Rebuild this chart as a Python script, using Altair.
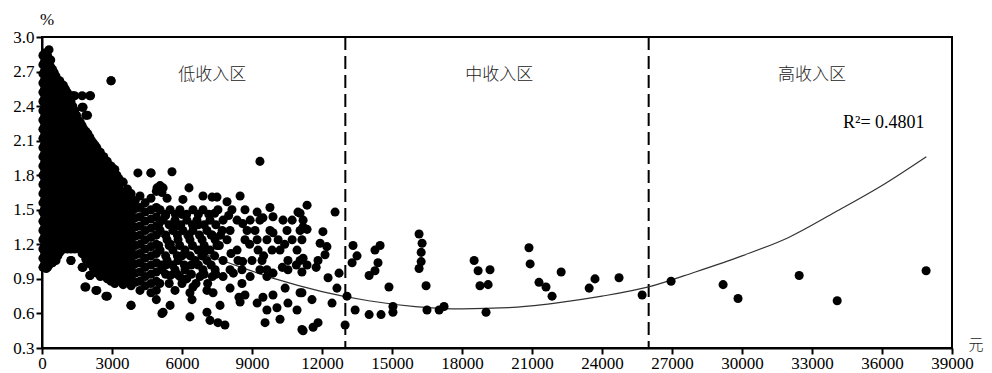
import altair as alt
import pandas as pd

# ---------------- data ----------------
x_ticks = [0, 3000, 6000, 9000, 12000, 15000, 18000, 21000, 24000, 27000, 30000, 33000, 36000, 39000]
y_ticks = [0.3, 0.6, 0.9, 1.2, 1.5, 1.8, 2.1, 2.4, 2.7, 3.0]

# dense low-income cloud, read column by column (income, list of rates)
dense_x = [40, 180, 300, 450, 600, 760, 920, 1080, 1240, 1400, 1560, 1720, 1880, 2050,
           2200, 2350, 2500, 2650, 2800, 2960, 3120, 3300, 3480, 3660, 3820, 4000, 4200,
           4420, 4670, 4900]
dense_y = [
    [1.00, 1.08, 1.16, 1.24, 1.32, 1.40, 1.48, 1.56, 1.64, 1.72, 1.80, 1.88, 1.96, 2.04, 2.12, 2.20, 2.28, 2.36, 2.44, 2.52, 2.60, 2.68, 2.76, 2.84],
    [0.99, 1.04, 1.12, 1.20, 1.28, 1.36, 1.44, 1.52, 1.60, 1.68, 1.76, 1.84, 1.92, 2.00, 2.08, 2.16, 2.24, 2.32, 2.40, 2.48, 2.56, 2.64, 2.72, 2.80, 2.86],
    [1.02, 1.10, 1.18, 1.26, 1.34, 1.42, 1.50, 1.58, 1.66, 1.74, 1.82, 1.90, 1.98, 2.06, 2.14, 2.22, 2.30, 2.38, 2.46, 2.54, 2.62, 2.70, 2.78, 2.89],
    [1.04, 1.12, 1.20, 1.28, 1.36, 1.44, 1.52, 1.60, 1.68, 1.76, 1.84, 1.92, 2.00, 2.08, 2.16, 2.24, 2.32, 2.40, 2.48, 2.56, 2.64, 2.72],
    [1.06, 1.14, 1.22, 1.30, 1.38, 1.46, 1.54, 1.62, 1.70, 1.78, 1.86, 1.94, 2.02, 2.10, 2.18, 2.26, 2.34, 2.42, 2.50, 2.58, 2.66],
    [1.13, 1.21, 1.29, 1.37, 1.45, 1.53, 1.61, 1.69, 1.77, 1.85, 1.93, 2.01, 2.09, 2.17, 2.25, 2.33, 2.41, 2.49, 2.57, 2.62],
    [1.17, 1.25, 1.33, 1.41, 1.49, 1.57, 1.65, 1.73, 1.81, 1.89, 1.97, 2.05, 2.13, 2.21, 2.29, 2.37, 2.45, 2.53, 2.58],
    [1.16, 1.24, 1.32, 1.40, 1.48, 1.56, 1.64, 1.72, 1.80, 1.88, 1.96, 2.04, 2.12, 2.20, 2.28, 2.36, 2.44, 2.52],
    [1.06, 1.16, 1.24, 1.32, 1.40, 1.48, 1.56, 1.64, 1.72, 1.80, 1.88, 1.96, 2.04, 2.12, 2.20, 2.28, 2.36, 2.44, 2.49],
    [1.16, 1.24, 1.32, 1.40, 1.48, 1.56, 1.64, 1.72, 1.80, 1.88, 1.96, 2.04, 2.12, 2.20, 2.28, 2.36, 2.49],
    [1.17, 1.25, 1.33, 1.41, 1.49, 1.57, 1.65, 1.73, 1.81, 1.89, 1.97, 2.05, 2.13, 2.21, 2.28],
    [1.00, 1.12, 1.20, 1.28, 1.36, 1.44, 1.52, 1.60, 1.68, 1.76, 1.84, 1.92, 2.00, 2.08, 2.16, 2.23, 2.39, 2.49],
    [0.83, 1.07, 1.15, 1.23, 1.31, 1.39, 1.47, 1.55, 1.63, 1.71, 1.79, 1.87, 1.95, 2.03, 2.11, 2.18, 2.32],
    [0.93, 1.03, 1.11, 1.19, 1.27, 1.35, 1.43, 1.51, 1.59, 1.67, 1.75, 1.83, 1.91, 1.99, 2.07, 2.13, 2.49],
    [0.99, 1.07, 1.15, 1.23, 1.31, 1.39, 1.47, 1.55, 1.63, 1.71, 1.79, 1.87, 1.95, 2.03, 2.08],
    [0.80, 0.95, 1.03, 1.11, 1.19, 1.27, 1.35, 1.43, 1.51, 1.59, 1.67, 1.75, 1.83, 1.91, 1.99, 2.04],
    [0.92, 1.00, 1.08, 1.16, 1.24, 1.32, 1.40, 1.48, 1.56, 1.64, 1.72, 1.80, 1.88, 1.96, 2.00],
    [0.96, 1.04, 1.12, 1.20, 1.28, 1.36, 1.44, 1.52, 1.60, 1.68, 1.76, 1.84, 1.92, 1.96],
    [0.75, 0.90, 0.98, 1.06, 1.14, 1.22, 1.30, 1.38, 1.46, 1.54, 1.62, 1.70, 1.78, 1.86, 1.92],
    [0.88, 0.96, 1.04, 1.12, 1.20, 1.28, 1.36, 1.44, 1.52, 1.60, 1.68, 1.76, 1.84, 1.88, 2.62],
    [0.86, 0.94, 1.02, 1.10, 1.18, 1.26, 1.34, 1.42, 1.50, 1.58, 1.66, 1.74, 1.82, 1.85],
    [0.89, 0.97, 1.05, 1.13, 1.21, 1.29, 1.37, 1.45, 1.53, 1.61, 1.69, 1.77],
    [0.85, 0.93, 1.01, 1.09, 1.17, 1.25, 1.33, 1.41, 1.49, 1.57, 1.65, 1.74],
    [0.88, 0.96, 1.04, 1.12, 1.20, 1.28, 1.36, 1.44, 1.52, 1.60, 1.68],
    [0.67, 0.84, 0.92, 1.00, 1.08, 1.16, 1.24, 1.32, 1.40, 1.48, 1.56, 1.64],
    [0.87, 0.95, 1.03, 1.11, 1.19, 1.27, 1.35, 1.43, 1.51, 1.58],
    [0.80, 0.88, 0.96, 1.04, 1.12, 1.20, 1.28, 1.36, 1.44, 1.52, 1.62],
    [0.84, 0.92, 1.00, 1.08, 1.16, 1.24, 1.32, 1.40, 1.48, 1.56],
    [0.78, 0.86, 0.94, 1.02, 1.10, 1.18, 1.26, 1.34, 1.42, 1.50, 1.60, 1.82],
    [0.72, 0.80, 0.88, 0.96, 1.04, 1.12, 1.20, 1.28, 1.36, 1.44, 1.52, 1.66],
]

# more columns of the same dense cloud, lying between the ones above
fill_x = [110, 240, 375, 525, 680, 840, 1000, 1160, 1320, 1480, 1640, 1800, 1965, 2125,
          2275, 2425, 2575, 2725, 2880, 3040, 3210]
fill_y = [
    [1.03, 1.11, 1.19, 1.27, 1.35, 1.43, 1.51, 1.59, 1.67, 1.75, 1.83, 1.91, 1.99, 2.07, 2.15, 2.23, 2.31, 2.39, 2.47, 2.55, 2.63, 2.71, 2.79, 2.86],
    [1.00, 1.08, 1.16, 1.24, 1.32, 1.40, 1.48, 1.56, 1.64, 1.72, 1.80, 1.88, 1.96, 2.04, 2.12, 2.20, 2.28, 2.36, 2.44, 2.52, 2.60, 2.68, 2.76, 2.84],
    [1.06, 1.14, 1.22, 1.30, 1.38, 1.46, 1.54, 1.62, 1.70, 1.78, 1.86, 1.94, 2.02, 2.10, 2.18, 2.26, 2.34, 2.42, 2.50, 2.58, 2.66, 2.74, 2.80],
    [1.09, 1.17, 1.25, 1.33, 1.41, 1.49, 1.57, 1.65, 1.73, 1.81, 1.89, 1.97, 2.05, 2.13, 2.21, 2.29, 2.37, 2.45, 2.53, 2.61, 2.69],
    [1.10, 1.18, 1.26, 1.34, 1.42, 1.50, 1.58, 1.66, 1.74, 1.82, 1.90, 1.98, 2.06, 2.14, 2.22, 2.30, 2.38, 2.46, 2.54, 2.62],
    [1.15, 1.23, 1.31, 1.39, 1.47, 1.55, 1.63, 1.71, 1.79, 1.87, 1.95, 2.03, 2.11, 2.19, 2.27, 2.35, 2.43, 2.51, 2.59],
    [1.21, 1.29, 1.37, 1.45, 1.53, 1.61, 1.69, 1.77, 1.85, 1.93, 2.01, 2.09, 2.17, 2.25, 2.33, 2.41, 2.49, 2.55],
    [1.20, 1.28, 1.36, 1.44, 1.52, 1.60, 1.68, 1.76, 1.84, 1.92, 2.00, 2.08, 2.16, 2.24, 2.32, 2.40, 2.48],
    [1.20, 1.28, 1.36, 1.44, 1.52, 1.60, 1.68, 1.76, 1.84, 1.92, 2.00, 2.08, 2.16, 2.24, 2.32, 2.40],
    [1.20, 1.28, 1.36, 1.44, 1.52, 1.60, 1.68, 1.76, 1.84, 1.92, 2.00, 2.08, 2.16, 2.24, 2.32],
    [1.16, 1.24, 1.32, 1.40, 1.48, 1.56, 1.64, 1.72, 1.80, 1.88, 1.96, 2.04, 2.12, 2.20, 2.26],
    [1.11, 1.19, 1.27, 1.35, 1.43, 1.51, 1.59, 1.67, 1.75, 1.83, 1.91, 1.99, 2.07, 2.15, 2.20],
    [1.07, 1.15, 1.23, 1.31, 1.39, 1.47, 1.55, 1.63, 1.71, 1.79, 1.87, 1.95, 2.03, 2.11, 2.16],
    [1.03, 1.11, 1.19, 1.27, 1.35, 1.43, 1.51, 1.59, 1.67, 1.75, 1.83, 1.91, 1.99, 2.07, 2.10],
    [0.99, 1.07, 1.15, 1.23, 1.31, 1.39, 1.47, 1.55, 1.63, 1.71, 1.79, 1.87, 1.95, 2.03, 2.06],
    [0.96, 1.04, 1.12, 1.20, 1.28, 1.36, 1.44, 1.52, 1.60, 1.68, 1.76, 1.84, 1.92, 2.00],
    [1.00, 1.08, 1.16, 1.24, 1.32, 1.40, 1.48, 1.56, 1.64, 1.72, 1.80, 1.88, 1.96],
    [0.94, 1.02, 1.10, 1.18, 1.26, 1.34, 1.42, 1.50, 1.58, 1.66, 1.74, 1.82, 1.90],
    [0.92, 1.00, 1.08, 1.16, 1.24, 1.32, 1.40, 1.48, 1.56, 1.64, 1.72, 1.80, 1.88],
    [0.90, 0.98, 1.06, 1.14, 1.22, 1.30, 1.38, 1.46, 1.54, 1.62, 1.70, 1.78, 1.86],
    [0.93, 1.01, 1.09, 1.17, 1.25, 1.33, 1.41, 1.49, 1.57, 1.65, 1.73, 1.80],
]

# moderately dense part of the low-income cloud, read row by row (rate, list of incomes)
band_y = [1.50, 1.41, 1.32, 1.24, 1.15, 1.06, 0.98, 0.92]
band_x = [
    [5060, 5490, 5910, 6470, 6900, 7540, 8140, 8700],
    [5190, 5700, 6210, 6640, 7200, 7760, 8360, 8920, 9340, 10330, 10720, 11190],
    [5060, 5610, 6040, 6470, 7070, 7720, 8060, 8790, 9130, 9770, 10500, 11060],
    [5360, 5830, 6340, 6860, 7420, 7930, 8700, 9220, 9640, 10120, 10720],
    [5060, 5610, 6130, 6690, 7200, 8360, 9260, 9860, 10200, 10930],
    [5360, 5830, 6560, 7070, 7760, 8400, 9000, 9430, 10540, 11060],
    [5140, 5700, 6130, 6900, 7420, 8060, 8570, 9340, 9640, 10540],
    [5910, 6770, 7760, 8920, 9640],
]

# the denser stretch between 5000 and 7600 yuan, second set of rows
band2_y = [1.46, 1.37, 1.28, 1.19, 1.10, 1.02, 0.94, 0.86]
band2_x = [
    [5280, 5720, 6200, 6700, 7150],
    [5000, 5450, 5950, 6450, 6950, 7450],
    [5300, 5800, 6250, 6750, 7250, 7650],
    [5000, 5450, 5900, 6450, 6950, 7500],
    [5300, 5800, 6350, 6850, 7400],
    [5100, 5600, 6100, 6700, 7250],
    [5300, 5800, 6400, 6950, 7450],
    [5050, 5450, 6000, 6600, 7100],
]

# single scattered low-income points (income, rate)
low_scatter = [
    (1330, 2.49), (2080, 2.49), (1760, 2.39), (1950, 2.32), (2960, 2.62),
    (4110, 1.82), (4670, 1.82), (5570, 1.83), (9340, 1.92), (5060, 1.71), (4930, 1.69),
    (5140, 1.65), (7290, 1.61),
    (6300, 1.69), (6040, 1.59), (6900, 1.62), (7500, 1.61), (8490, 1.62), (7930, 1.57),
    (5190, 1.69), (5360, 1.60), (9220, 1.48), (9770, 1.52), (10970, 1.48), (11360, 1.54),
    (9470, 1.43), (9900, 1.44), (12560, 1.48), (11060, 1.47),
    (5300, 1.45), (5800, 1.36), (6300, 1.28), (6000, 1.46), (6700, 1.37), (7300, 1.28),
    (5500, 1.20), (6000, 1.10), (6400, 1.02), (5300, 1.02), (7600, 1.19), (8100, 1.12),
    (8000, 1.45), (7400, 1.47), (8600, 1.38), (6950, 1.13), (5500, 0.93), (6200, 0.90),
    (7300, 0.92), (8200, 0.95), (8600, 1.05), (8900, 1.20), (9500, 1.10), (9900, 1.30),
    (10400, 1.20), (10300, 1.00), (9900, 0.95), (10900, 1.02),
    (1240, 1.06), (1760, 1.00), (2060, 0.93), (1840, 0.83), (2310, 0.80), (2740, 0.75),
    (3810, 0.67), (5140, 0.60),
    (5700, 0.80), (6340, 0.78), (6430, 0.72), (7070, 0.80), (7330, 0.78), (8060, 0.82),
    (8570, 0.86), (8490, 0.70), (8700, 0.76), (9220, 0.69), (9470, 0.74), (9900, 0.76),
    (9640, 0.63), (10070, 0.65), (10420, 0.82), (10540, 0.69), (10930, 0.63), (11060, 0.78),
    (5490, 0.67), (5190, 0.61), (6340, 0.57), (7070, 0.61), (7200, 0.54), (7540, 0.52),
    (7840, 0.50), (9560, 0.52), (10200, 0.55), (11140, 0.46), (7630, 0.67), (8440, 0.74),
    (6470, 0.83),
    (11190, 1.35), (11360, 1.33), (11140, 1.24), (12040, 1.31), (11920, 1.21), (12210, 1.18),
    (12130, 1.11), (11190, 1.08), (11360, 1.02), (11750, 1.00), (11830, 1.06), (11140, 0.96),
    (12260, 0.91), (12730, 0.95), (12640, 0.82), (11140, 0.78), (11570, 0.72), (12430, 0.69),
    (11620, 0.48), (11830, 0.52), (11190, 0.45), (12990, 0.50), (13070, 0.75),
]

# middle-income points (income, rate)
mid_points = [
    (13330, 1.19), (13500, 1.10), (13290, 1.04), (13420, 0.63),
    (14270, 1.15), (14490, 1.19), (14400, 1.04), (14270, 0.97), (14020, 0.93), (14870, 0.83),
    (14020, 0.59), (14530, 0.59), (15040, 0.66), (15040, 0.61),
    (16160, 1.29), (16290, 1.21), (16250, 1.13), (16250, 1.05), (16160, 0.99), (16460, 0.84),
    (16500, 0.63), (17020, 0.63), (17230, 0.66),
    (18520, 1.06), (18690, 0.97), (19200, 0.98), (18770, 0.84), (19120, 0.85), (19030, 0.61),
    (20870, 1.17), (20920, 1.03), (21300, 0.87), (21600, 0.83), (21860, 0.75), (22250, 0.96),
    (23450, 0.82), (23700, 0.90), (24730, 0.91), (25720, 0.76),
]

# high-income points (income, rate)
high_points = [
    (26960, 0.88), (29190, 0.85), (29830, 0.73), (32450, 0.93), (34080, 0.71), (37890, 0.97),
]

# quadratic trend line
trend_x = [0, 2000, 4000, 6000, 8000, 10000, 12000, 14000, 16000, 18000, 20000,
           22000, 24000, 26000, 28000, 30000, 32000, 34000, 36000, 37900]
trend_y = [1.84, 1.60, 1.38, 1.19, 1.04, 0.90, 0.79, 0.71, 0.66, 0.64, 0.65,
           0.69, 0.75, 0.83, 0.96, 1.10, 1.26, 1.48, 1.71, 1.96]

zone_bounds = [13000, 26000]
zone_labels = ["低收入区", "中收入区", "高收入区"]
zone_label_x = [7300, 19600, 33000]
zone_label_y = [2.67, 2.67, 2.67]

r2_text = "R²= 0.4801"

# ---------------- build tables ----------------
rows = []
for xv, ys in list(zip(dense_x, dense_y)) + list(zip(fill_x, fill_y)):
    for yv in ys:
        rows.append({"income": xv, "rate": yv})
for yv, xs in list(zip(band_y, band_x)) + list(zip(band2_y, band2_x)):
    for xv in xs:
        rows.append({"income": xv, "rate": yv})
for xv, yv in low_scatter + mid_points + high_points:
    rows.append({"income": xv, "rate": yv})
pts = pd.DataFrame(rows)

trend = pd.DataFrame({"income": trend_x, "rate": trend_y})
bounds = pd.DataFrame({"income": zone_bounds})
labels = pd.DataFrame({"income": zone_label_x, "rate": zone_label_y, "label": zone_labels})

SERIF = "Liberation Serif"
CJK = "Noto Sans CJK SC"

xscale = alt.Scale(domain=[0, 39000], nice=False, zero=False)
yscale = alt.Scale(domain=[0.3, 3.0], nice=False, zero=False)

xaxis = alt.Axis(values=x_ticks, format="d", title=None, grid=False, labelFlush=False,
                 labelFont=SERIF, labelFontSize=17, labelColor="black", labelPadding=1,
                 tickColor="black", tickWidth=2, tickSize=6, domainColor="black", domainWidth=2,
                 labelOverlap=False)
yaxis = alt.Axis(values=y_ticks, format=".1f", title=None, grid=False, labelFlush=False,
                 labelFont=SERIF, labelFontSize=17, labelColor="black", labelPadding=2,
                 tickColor="black", tickWidth=2, tickSize=6, domainColor="black", domainWidth=2,
                 labelOverlap=False)

base_x = alt.X("income:Q", scale=xscale, axis=xaxis)
base_y = alt.Y("rate:Q", scale=yscale, axis=yaxis)

rules = alt.Chart(bounds).mark_rule(color="black", strokeWidth=2, strokeDash=[13, 6]).encode(
    x=alt.X("income:Q", scale=xscale, axis=xaxis),
    y=alt.value(0), y2=alt.value(311),
)

line = alt.Chart(trend).mark_line(color="#333333", strokeWidth=1.2, interpolate="monotone").encode(
    x=base_x, y=base_y
)

points = alt.Chart(pts).mark_circle(color="black", opacity=1, size=82).encode(
    x=base_x, y=base_y
)

zone_text = alt.Chart(labels).mark_text(font=CJK, fontSize=17, fontWeight=300, color="#222222",
                                        baseline="middle", align="center").encode(
    x=alt.X("income:Q", scale=xscale, axis=xaxis),
    y=alt.Y("rate:Q", scale=yscale, axis=yaxis),
    text="label:N",
)

r2 = alt.Chart(pd.DataFrame({"income": [34330], "rate": [2.25], "t": [r2_text]})).mark_text(
    font=SERIF, fontSize=18, color="black", align="left", baseline="middle").encode(
    x=alt.X("income:Q", scale=xscale, axis=xaxis),
    y=alt.Y("rate:Q", scale=yscale, axis=yaxis),
    text="t:N",
)

pct = alt.Chart(pd.DataFrame({"t": ["%"]})).mark_text(
    font=SERIF, fontSize=17, color="black", align="center", baseline="middle").encode(
    x=alt.value(5), y=alt.value(-17), text="t:N")

yuan = alt.Chart(pd.DataFrame({"t": ["元"]})).mark_text(
    font=CJK, fontSize=15, fontWeight=300, color="#222222", align="center", baseline="middle").encode(
    x=alt.value(934), y=alt.value(308), text="t:N")

chart = alt.layer(rules, line, points, zone_text, r2, pct, yuan).properties(
    width=910, height=311,
    padding={"left": 34, "top": 29, "right": 32, "bottom": 25},
    autosize=alt.AutoSizeParams(type="none"),
    background="white",
).configure_view(stroke="black", strokeWidth=2)

chart.save("out.html", embed_options={"renderer": "svg", "actions": False})
